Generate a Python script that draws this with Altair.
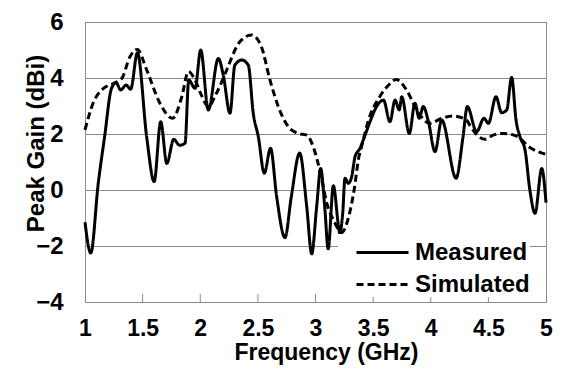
import altair as alt
import pandas as pd

# ---- data ----
meas_f = [1.00, 1.05, 1.115, 1.17, 1.23, 1.27, 1.31, 1.356, 1.396, 1.455, 1.535, 1.60, 1.657, 1.71,
          1.77, 1.82, 1.868, 1.90, 1.955, 2.004, 2.07, 2.157, 2.20, 2.258, 2.30, 2.36, 2.417, 2.46,
          2.504, 2.556, 2.61, 2.663, 2.735, 2.79, 2.863, 2.924, 2.967, 3.01, 3.045, 3.08, 3.11,
          3.155, 3.198, 3.21, 3.236, 3.256, 3.285, 3.314, 3.343, 3.386, 3.415, 3.473, 3.53, 3.59,
          3.646, 3.69, 3.727, 3.748, 3.814, 3.863, 3.90, 3.935, 3.98, 4.037, 4.095, 4.22, 4.28,
          4.317, 4.398, 4.462, 4.50, 4.566, 4.615, 4.659, 4.702, 4.74, 4.774, 4.818, 4.86, 4.905,
          4.963, 5.00]
meas_g = [-1.15, -2.25, 0.24, 1.9, 3.63, 3.83, 3.57, 3.75, 3.6, 4.9, 1.9, 0.3, 2.44, 0.95,
          1.81, 1.6, 1.67, 3.93, 3.63, 5.0, 2.86, 4.7, 4.1, 2.74, 4.46, 4.64, 4.46, 2.74,
          1.9, 0.6, 1.49, -0.24, -1.7, -0.24, 1.32, -0.6, -2.28, -0.6, 0.77, -0.6, -2.1,
          0.15, -1.25, -1.55, -0.83, 0.42, 0.24, 0.48, 1.19, 1.49, 1.79, 2.44, 2.98, 3.21,
          2.44, 3.21, 2.86, 3.33, 2.02, 3.1, 2.56, 2.98, 2.44, 1.37, 2.5, 0.42, 1.9,
          2.98, 2.08, 2.56, 2.38, 3.33, 2.76, 2.86, 4.02, 2.5, 1.9, 1.43, 0.0, -0.83,
          0.77, -0.45]

sim_f = [1.00, 1.07, 1.16, 1.245, 1.32, 1.39, 1.454, 1.535, 1.65, 1.76, 1.84, 1.897, 1.955,
         2.01, 2.07, 2.14, 2.23, 2.316, 2.345, 2.446, 2.53, 2.605, 2.677, 2.764, 2.85, 2.924,
         2.98, 3.04, 3.10, 3.165, 3.227, 3.285, 3.335, 3.375, 3.40, 3.46, 3.56, 3.635, 3.70,
         3.79, 3.878, 3.993, 4.095, 4.196, 4.31, 4.34, 4.47, 4.543, 4.63, 4.746, 4.86, 5.00]
sim_g = [2.15, 3.1, 3.63, 3.8, 3.99, 4.76, 5.02, 4.29, 3.1, 2.56, 3.33, 4.23, 3.93,
         3.39, 2.98, 3.45, 4.29, 5.12, 5.3, 5.54, 5.12, 3.93, 2.98, 2.26, 2.02, 1.96,
         1.55, 0.65, -0.5, -1.15, -1.52, -1.0, 0.0, 1.15, 1.55, 2.5, 3.35, 3.75, 3.95,
         3.57, 2.86, 2.38, 2.56, 2.64, 2.5, 2.3, 1.81, 1.96, 2.02, 1.92, 1.52, 1.27]

series = ["Measured", "Simulated"]
x_ticks = [1, 1.5, 2, 2.5, 3, 3.5, 4, 4.5, 5]
x_inner_ticks = [1.5, 2, 2.5, 3, 3.5, 4, 4.5]
y_ticks = [-4, -2, 0, 2, 4, 6]

df = pd.concat([
    pd.DataFrame({"f": meas_f, "g": meas_g, "s": series[0]}),
    pd.DataFrame({"f": sim_f, "g": sim_g, "s": series[1]}),
])
tick_df = pd.DataFrame({"t": x_inner_ticks})

FONT = "Liberation Sans"
GRAY = "#8c8c8c"

xscale = alt.Scale(domain=[1, 5], nice=False)
yscale = alt.Scale(domain=[-4, 6], nice=False)

x_axis = alt.Axis(
    values=x_ticks, format="~g", title="Frequency (GHz)", grid=False, ticks=False,
    labelFlush=False, labelPadding=15, labelFontSize=23, labelFontWeight="bold",
    labelFont=FONT, labelColor="black", titleFontSize=23, titleFontWeight="bold",
    titleFont=FONT, titleColor="black", titleX=241, titleY=57,
    titleBaseline="alphabetic", titleAlign="center", domainColor=GRAY)

lines = alt.Chart(df).mark_line(interpolate="monotone", strokeWidth=3, color="black").encode(
    x=alt.X("f:Q", scale=xscale, axis=x_axis),
    y=alt.Y("g:Q", scale=yscale, axis=alt.Axis(
        values=y_ticks, title="Peak Gain (dBi)", grid=True, gridColor=GRAY, gridWidth=1,
        ticks=False, labelPadding=22, labelFontSize=24, labelFontWeight="bold",
        labelFont=FONT, labelColor="black", titleFontSize=24, titleFontWeight="bold",
        titleFont=FONT, titleColor="black", titleX=-42, titleY=121, titleAngle=270,
        titleBaseline="alphabetic", titleAlign="center", domainColor=GRAY)),
    strokeDash=alt.StrokeDash("s:N", scale=alt.Scale(domain=series, range=[[1, 0], [7, 4]]),
        legend=alt.Legend(title=None, orient="none", legendX=253, legendY=212,
                          symbolType="M0,0H3.06", symbolSize=1156, symbolStrokeWidth=3,
                          symbolStrokeColor="black", symbolFillColor="transparent",
                          labelFontSize=24, labelFontWeight="bold", labelFont=FONT,
                          labelColor="black", labelOffset=40, rowPadding=1, padding=0,
                          fillColor="white", labelLimit=300)),
)

ticks = alt.Chart(tick_df).mark_rule(color=GRAY, strokeWidth=1).encode(
    x=alt.X("t:Q", scale=xscale, axis=x_axis),
    y=alt.value(280), y2=alt.value(272),
)

chart = alt.layer(lines, ticks).properties(
    width=461, height=280,
    autosize=alt.AutoSizeParams(type="none"),
    padding={"left": 85, "top": 22, "right": 16, "bottom": 80},
).configure_view(stroke=GRAY, strokeWidth=1)

chart.save("out.html", embed_options={"renderer": "svg", "actions": False})
